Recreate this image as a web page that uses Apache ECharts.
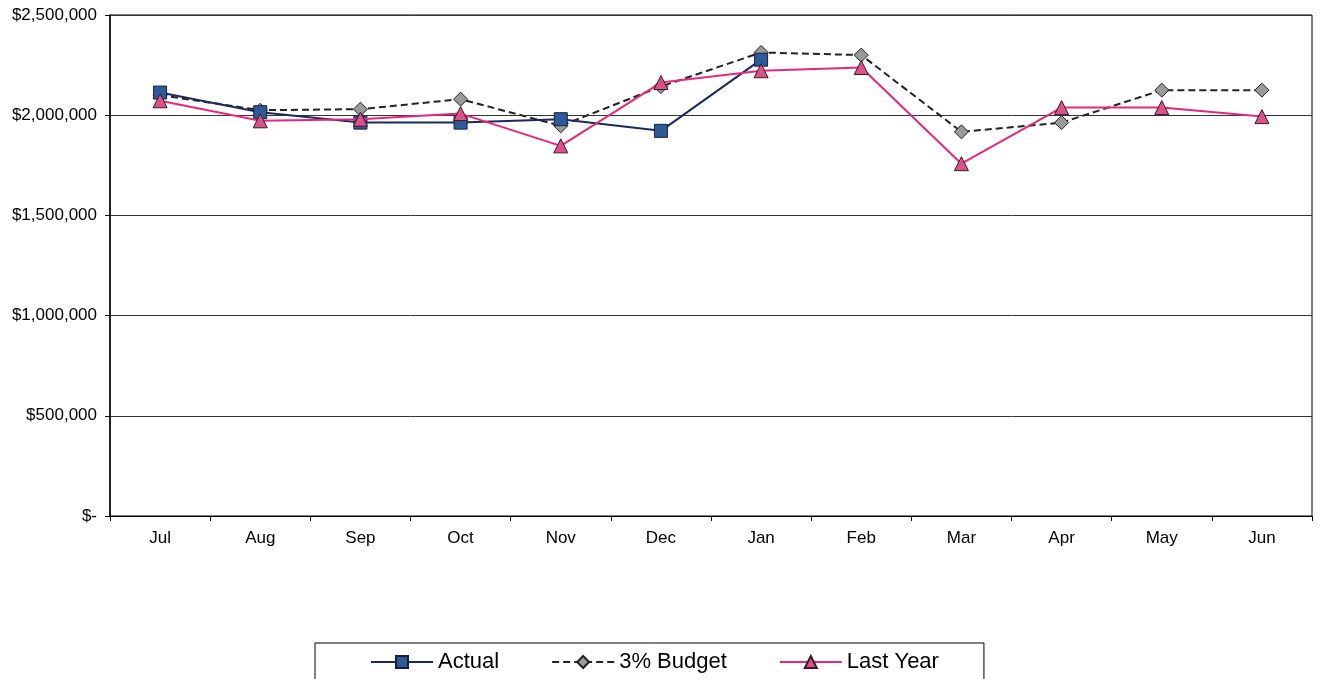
<!DOCTYPE html>
<html>
<head>
<meta charset="utf-8">
<script src="https://cdn.jsdelivr.net/npm/echarts@6/dist/echarts.min.js"></script>
<style>
  html, body { margin: 0; padding: 0; background: #fff; }
  #chart { width: 1320px; height: 679px; }
</style>
</head>
<body>
<div id="chart"></div>
<script>
// months of the fiscal year
const months = ['Jul', 'Aug', 'Sep', 'Oct', 'Nov', 'Dec', 'Jan', 'Feb', 'Mar', 'Apr', 'May', 'Jun']
// values
const actual = [2113000, 2015000, 1963000, 1963000, 1980000, 1922000, 2277000, null, null, null, null, null]
const budget = [2100000, 2025000, 2030000, 2080000, 1947000, 2143000, 2313000, 2300000, 1917000, 1963000, 2125000, 2125000]
const lastYear = [2072000, 1972000, 1980000, 2008000, 1847000, 2163000, 2222000, 2238000, 1758000, 2038000, 2038000, 1993000]

const font = 'Liberation Sans, Arial, sans-serif'

// $2,500,000 style labels, zero shown as "$-"
function money(v) {
  if (v === 0) return '$-'
  return '$' + v.toString().replace(/\B(?=(\d{3})+(?!\d))/g, ',')
}

const chart = echarts.init(document.getElementById('chart'))
chart.setOption({
  animation: false,
  backgroundColor: '#fff',
  grid: {
    left: 110,
    right: 8,
    top: 15,
    bottom: 163,
    show: true,
    borderColor: '#000',
    borderWidth: 1,
    backgroundColor: '#fff'
  },
  legend: {
    top: 643,
    left: 315,
    itemGap: 52,
    itemWidth: 62,
    itemHeight: 15,
    padding: [8, 45, 14, 55],
    borderColor: '#000',
    borderWidth: 1,
    textStyle: { fontFamily: font, fontSize: 22, color: '#000' },
    data: ['Actual', '3% Budget', 'Last Year']
  },
  xAxis: {
    type: 'category',
    data: months,
    boundaryGap: true,
    axisLine: { lineStyle: { color: '#000', width: 1 } },
    axisTick: { show: true, length: 5, lineStyle: { color: '#000' } },
    axisLabel: { fontFamily: font, fontSize: 17, color: '#000', margin: 14 }
  },
  yAxis: {
    type: 'value',
    min: 0,
    max: 2500000,
    interval: 500000,
    axisLine: { show: true, lineStyle: { color: '#000', width: 1.5 } },
    axisTick: { show: true, length: 5, lineStyle: { color: '#000' } },
    splitLine: { lineStyle: { color: '#333', width: 1 } },
    axisLabel: { fontFamily: font, fontSize: 17, color: '#000', margin: 13, formatter: money }
  },
  series: [
    {
      name: 'Actual',
      type: 'line',
      data: actual,
      symbol: 'rect',
      symbolSize: 13,
      z: 3,
      lineStyle: { color: '#1c2a5a', width: 2 },
      itemStyle: { color: '#2f5a98', borderColor: '#15203f', borderWidth: 1 }
    },
    {
      name: '3% Budget',
      type: 'line',
      data: budget,
      symbol: 'diamond',
      symbolSize: 14,
      z: 2,
      lineStyle: { color: '#222', width: 2, type: [7, 4] },
      itemStyle: { color: '#9a9a9a', borderColor: '#222', borderWidth: 1 }
    },
    {
      name: 'Last Year',
      type: 'line',
      data: lastYear,
      symbol: 'triangle',
      symbolSize: 14,
      z: 4,
      lineStyle: { color: '#e6287a', width: 2 },
      itemStyle: { color: '#d9538a', borderColor: '#3a1a28', borderWidth: 1 }
    }
  ]
})
</script>
</body>
</html>
